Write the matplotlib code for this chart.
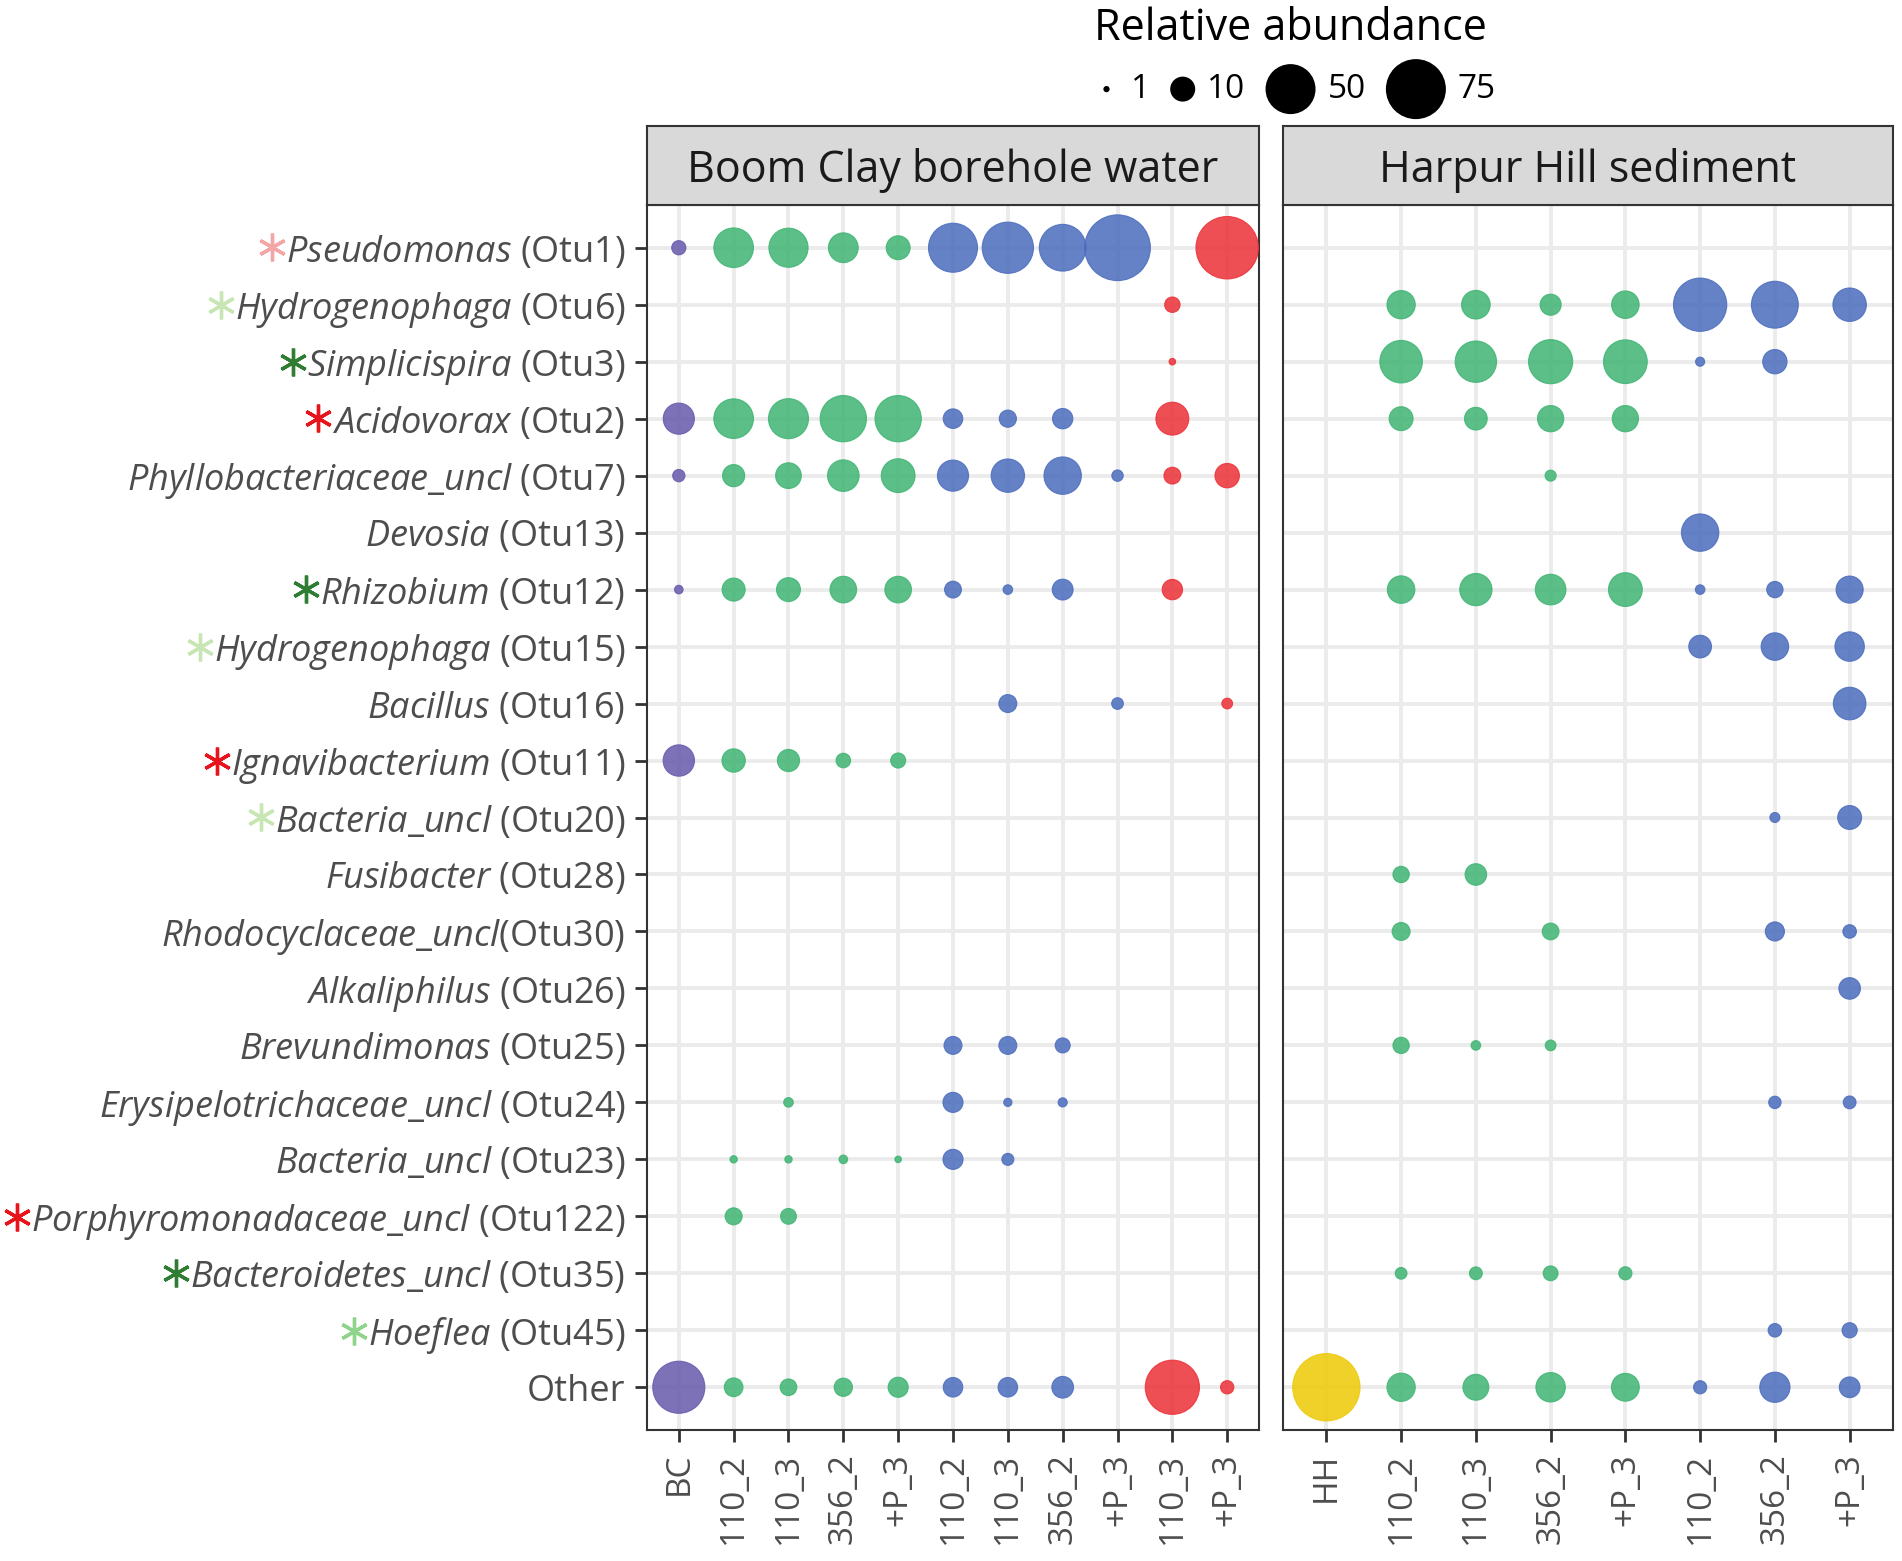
import numpy as np
import matplotlib
matplotlib.use("Agg")
import matplotlib.pyplot as plt
from matplotlib.lines import Line2D
from matplotlib.patches import Circle
from matplotlib.transforms import IdentityTransform
from matplotlib.offsetbox import (AnchoredOffsetbox, DrawingArea, HPacker,
                                  TextArea, VPacker)

plt.rcParams['font.family'] = ['Open Sans', 'DejaVu Sans']
plt.rcParams['mathtext.fontset'] = 'custom'
plt.rcParams['mathtext.rm'] = 'Open Sans'
plt.rcParams['mathtext.it'] = 'Open Sans:italic'

DPI = 100

# rows, top to bottom
genus = ['Pseudomonas', 'Hydrogenophaga', 'Simplicispira', 'Acidovorax',
         'Phyllobacteriaceae_uncl', 'Devosia', 'Rhizobium', 'Hydrogenophaga',
         'Bacillus', 'Ignavibacterium', 'Bacteria_uncl', 'Fusibacter',
         'Rhodocyclaceae_uncl', 'Alkaliphilus', 'Brevundimonas',
         'Erysipelotrichaceae_uncl', 'Bacteria_uncl', 'Porphyromonadaceae_uncl',
         'Bacteroidetes_uncl', 'Hoeflea', None]
otu = ['Otu1', 'Otu6', 'Otu3', 'Otu2', 'Otu7', 'Otu13', 'Otu12', 'Otu15',
       'Otu16', 'Otu11', 'Otu20', 'Otu28', 'Otu30', 'Otu26', 'Otu25', 'Otu24',
       'Otu23', 'Otu122', 'Otu35', 'Otu45', 'Other']
star_colors = ['#f4a6a6', '#c8e6b4', '#2e7d32', '#e8141c', None, None,
               '#2e7d32', '#c8e6b4', None, '#e8141c', '#c8e6b4', None, None,
               None, None, None, None, '#e8141c', '#2e7d32', '#8ed48a', None]

group_colors = {'BC': '#6659ab', 'set1': '#3eb472', 'set2': '#4b6cbc',
                'set3': '#eb3037', 'HH': '#edc904'}

boom_samples = ['BC', '110_2', '110_3', '356_2', '+P_3', '110_2', '110_3',
                '356_2', '+P_3', '110_3', '+P_3']
boom_groups = ['BC', 'set1', 'set1', 'set1', 'set1', 'set2', 'set2', 'set2',
               'set2', 'set3', 'set3']
boom_abund = [
    [3.1, 31.4, 30.6, 16.5, 10.0, 50.3, 55.4, 45.3, 95.0, 0, 85.0],
    [0, 0, 0, 0, 0, 0, 0, 0, 0, 3.7, 0],
    [0, 0, 0, 0, 0, 0, 0, 0, 0, 1.05, 0],
    [18.3, 31.4, 32.2, 44.4, 44.4, 6.3, 4.7, 6.9, 0, 20.7, 0],
    [2.3, 8.4, 11.8, 18.9, 22.0, 18.3, 21.4, 27.6, 2.0, 4.5, 10.5],
    [0, 0, 0, 0, 0, 0, 0, 0, 0, 0, 0],
    [1.3, 9.2, 10.0, 12.8, 12.8, 4.5, 1.5, 7.3, 0, 6.9, 0],
    [0, 0, 0, 0, 0, 0, 0, 0, 0, 0, 0],
    [0, 0, 0, 0, 0, 0, 5.2, 0, 2.1, 0, 1.8],
    [18.6, 9.5, 8.4, 3.25, 3.5, 0, 0, 0, 0, 0, 0],
    [0, 0, 0, 0, 0, 0, 0, 0, 0, 0, 0],
    [0, 0, 0, 0, 0, 0, 0, 0, 0, 0, 0],
    [0, 0, 0, 0, 0, 0, 0, 0, 0, 0, 0],
    [0, 0, 0, 0, 0, 0, 0, 0, 0, 0, 0],
    [0, 0, 0, 0, 0, 5.2, 5.2, 3.5, 0, 0, 0],
    [0, 0, 1.5, 0, 0, 6.7, 1.24, 1.4, 0, 0, 0],
    [0, 1.12, 1.12, 1.3, 1.05, 6.7, 2.2, 0, 0, 0, 0],
    [0, 4.6, 3.9, 0, 0, 0, 0, 0, 0, 0, 0],
    [0, 0, 0, 0, 0, 0, 0, 0, 0, 0, 0],
    [0, 0, 0, 0, 0, 0, 0, 0, 0, 0, 0],
    [57.4, 5.7, 4.4, 5.4, 6.7, 6.3, 6.3, 8.0, 0, 62.6, 2.7],
]

harpur_samples = ['HH', '110_2', '110_3', '356_2', '+P_3', '110_2', '356_2', '+P_3']
harpur_groups = ['HH', 'set1', 'set1', 'set1', 'set1', 'set2', 'set2', 'set2']
harpur_abund = [
    [0, 0, 0, 0, 0, 0, 0, 0],
    [0, 14.7, 15.1, 7.5, 13.8, 60.3, 45.6, 21.5],
    [0, 36.8, 34.6, 39.9, 39.1, 1.4, 10.4, 0],
    [0, 10.0, 8.9, 12.4, 12.4, 0, 0, 0],
    [0, 0, 0, 1.9, 0, 0, 0, 0],
    [0, 0, 0, 0, 0, 27.6, 0, 0],
    [0, 13.8, 19.8, 17.6, 22.0, 1.5, 4.2, 13.3],
    [0, 0, 0, 0, 0, 8.9, 13.8, 16.1],
    [0, 0, 0, 0, 0, 0, 0, 20.3],
    [0, 0, 0, 0, 0, 0, 0, 0],
    [0, 0, 0, 0, 0, 0, 1.6, 10.0],
    [0, 4.2, 7.9, 0, 0, 0, 0, 0],
    [0, 5.2, 0, 4.45, 0, 0, 6.0, 2.8],
    [0, 0, 0, 0, 0, 0, 0, 7.9],
    [0, 4.2, 1.5, 1.8, 0, 0, 0, 0],
    [0, 0, 0, 0, 0, 0, 2.35, 2.5],
    [0, 0, 0, 0, 0, 0, 0, 0],
    [0, 0, 0, 0, 0, 0, 0, 0],
    [0, 2.1, 2.5, 3.4, 2.65, 0, 0, 0],
    [0, 0, 0, 0, 0, 0, 2.8, 3.6],
    [100.0, 14.7, 12.0, 16.1, 14.2, 2.65, 17.1, 7.2],
]

legend_values = [1, 10, 50, 75]
EDGE_LW = 0.8


def dot_diam_pt(v):
    # area-style size scale: diameter grows with sqrt(abundance - 1)
    v = np.asarray(v, float)
    d_px = 6.25 * (1 + np.sqrt(np.clip(v - 1, 0, None)))
    return d_px * 72 / DPI - EDGE_LW


def row_label(g, o):
    if g is None:
        return o
    sep = '' if o == 'Otu30' else ' '
    return r'$\mathit{' + g.replace('_', r'\_') + '}$' + sep + '(' + o + ')'


fig = plt.figure(figsize=(19.02, 15.61), dpi=DPI)
W, H = 1902, 1561

panels = [
    ('Boom Clay borehole water', boom_samples, boom_groups, boom_abund, 647, 1259),
    ('Harpur Hill sediment', harpur_samples, harpur_groups, harpur_abund, 1283, 1893),
]
top, bottom, strip_top = 205, 1430, 126
n_rows = len(otu)
axes = []
for title, samples, groups, abund, x0, x1 in panels:
    ax = fig.add_axes([x0 / W, 1 - bottom / H, (x1 - x0) / W, (bottom - top) / H])
    a = np.array(abund, float)
    rows, cols = np.nonzero(a)
    cols_c = [group_colors[groups[c]] for c in cols]
    ax.scatter(cols, rows, s=dot_diam_pt(a[rows, cols]) ** 2, c=cols_c,
               edgecolors=cols_c, linewidths=EDGE_LW, alpha=0.85, zorder=3)
    ax.set_xlim(-0.58, len(samples) - 1 + 0.58)
    ax.set_ylim(n_rows - 1 + 0.75, -0.75)
    ax.set_xticks(range(len(samples)))
    ax.set_xticklabels(samples, rotation=90)
    ax.set_yticks(range(n_rows))
    ax.grid(True, color='#ebebeb', linewidth=2.8)
    ax.set_axisbelow(True)
    for sp in ax.spines.values():
        sp.set_color('#333333')
        sp.set_linewidth(1.5)
    ax.tick_params(length=8.5, width=2, color='#333333', labelcolor='#4d4d4d')
    ax.tick_params(axis='x', labelsize=24, pad=8)
    ax.tick_params(axis='y', labelsize=26, pad=7)

    sax = fig.add_axes([x0 / W, 1 - top / H, (x1 - x0) / W, (top - strip_top) / H])
    sax.set_facecolor('#d9d9d9')
    sax.set_xticks([])
    sax.set_yticks([])
    for sp in sax.spines.values():
        sp.set_color('#333333')
        sp.set_linewidth(1.5)
    sax.text(0.5, 0.29, title, ha='center', va='baseline', fontsize=31,
             color='#1a1a1a', transform=sax.transAxes)
    axes.append(ax)

ax_left, ax_right = axes
ax_left.set_yticklabels([row_label(g, o) for g, o in zip(genus, otu)])
ax_right.tick_params(axis='y', length=0, labelleft=False)

# size legend, laid out like ggplot: each key as wide as its circle
key_h = 44.6
entries = []
for v in legend_values:
    d = float(dot_diam_pt(v)) + EDGE_LW
    kw = max(18.0, d)
    da = DrawingArea(kw, key_h, 0, 0)
    da.add_artist(Circle((kw / 2, key_h / 2), d / 2, facecolor='black',
                         edgecolor='none'))
    entries.append(HPacker(children=[da, TextArea(str(v), textprops=dict(fontsize=24))],
                           sep=8.6, pad=0, align='center'))
legend_box = VPacker(children=[TextArea('Relative abundance', textprops=dict(fontsize=31)),
                               HPacker(children=entries, sep=14.5, pad=0, align='center')],
                     sep=5.5, pad=0, align='left')
anchored = AnchoredOffsetbox(loc='upper left', child=legend_box, pad=0, borderpad=0,
                             frameon=False, bbox_to_anchor=(1094 / W, 1 - 6 / H),
                             bbox_transform=fig.transFigure)
fig.add_artist(anchored)

# coloured asterisks in front of the row labels
fig.canvas.draw()
for lab, col in zip(ax_left.get_yticklabels(), star_colors):
    if col is None:
        continue
    bb = lab.get_window_extent()
    fig.add_artist(Line2D([bb.x0 - 14], [(bb.y0 + bb.y1) / 2 + 5],
                          marker=(6, 2, 0), markersize=20, markeredgewidth=2.4,
                          color=col, transform=IdentityTransform()))

fig.savefig('out.png', dpi=DPI)
